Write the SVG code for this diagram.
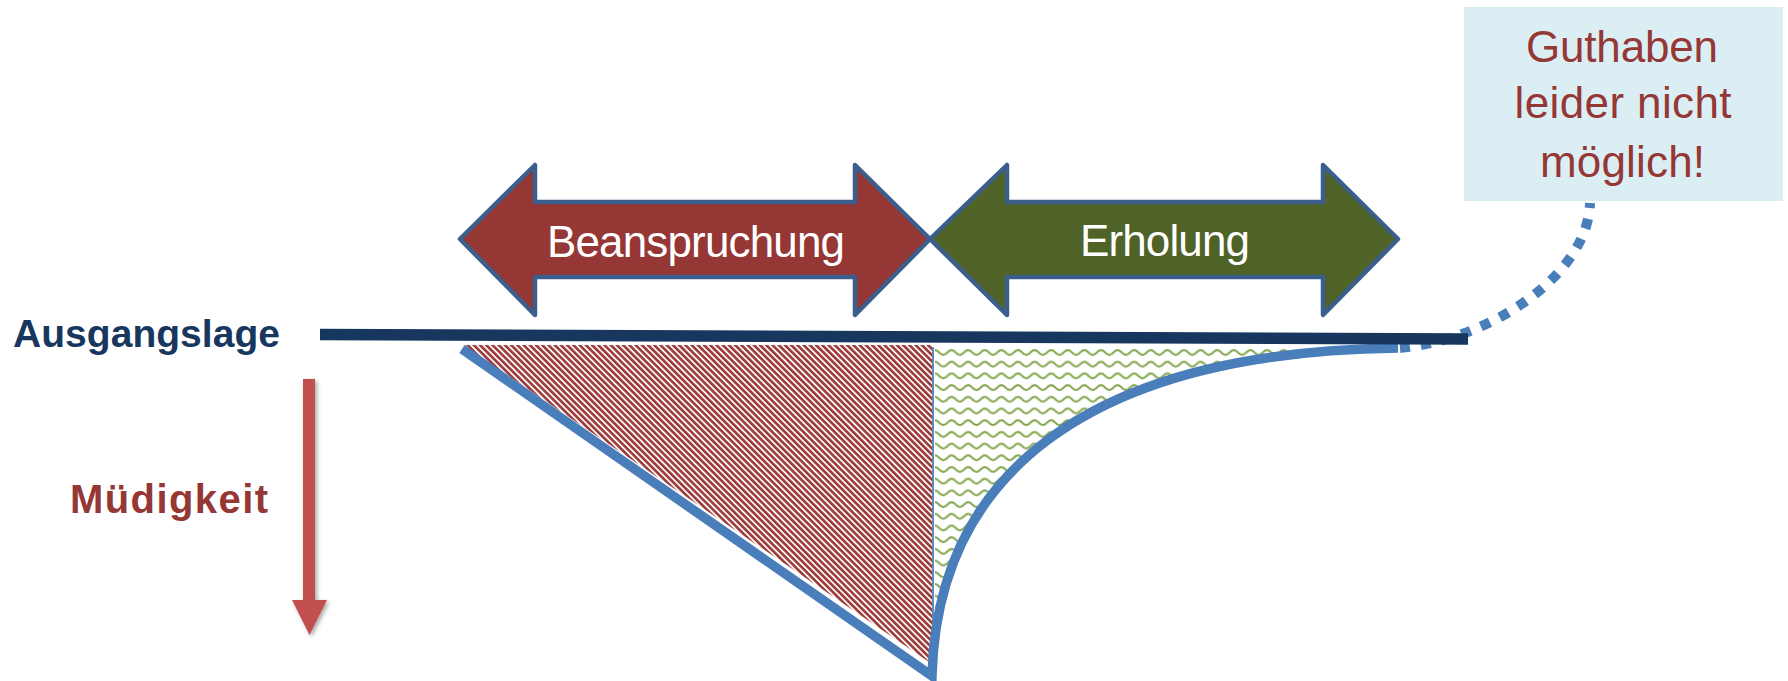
<svg xmlns="http://www.w3.org/2000/svg" width="1788" height="681" viewBox="0 0 1788 681">
  <style>
    .lbl{font-family:"Liberation Sans",Arial,sans-serif;}
    .arrowShape{stroke:#3B5E8C;stroke-width:4.5;stroke-linejoin:round;}
    .white{fill:#FFFFFF;font-size:44px;text-anchor:middle;}
    .note{fill:#953735;font-size:44px;text-anchor:middle;}
  </style>
  <defs>
    <pattern id="hatch" patternUnits="userSpaceOnUse" width="4.4" height="4.4" patternTransform="rotate(45)">
      <rect width="4.4" height="4.4" fill="#FFFFFF"/>
      <rect width="4.4" height="2.7" fill="#9E3E3C"/>
    </pattern>
    <pattern id="wave" patternUnits="userSpaceOnUse" width="16.6" height="11.7" x="935" y="347">
      <rect width="16.6" height="11.7" fill="#FFFFFF"/>
      <path d="M0,3 C4.15,3 4.15,8 8.3,8 C12.45,8 12.45,3 16.6,3" fill="none" stroke="#86A84F" stroke-width="2.2"/>
    </pattern>
    <filter id="shadow" x="-50%" y="-10%" width="200%" height="130%">
      <feGaussianBlur in="SourceAlpha" stdDeviation="2"/>
      <feOffset dx="2" dy="2" result="b"/>
      <feComponentTransfer><feFuncA type="linear" slope="0.35"/></feComponentTransfer>
      <feMerge><feMergeNode/><feMergeNode in="SourceGraphic"/></feMerge>
    </filter>
  </defs>

  <rect width="1788" height="681" fill="#FFFFFF"/>

  <!-- Areas -->
  <g id="area-beanspruchung">
    <polygon points="463,345 932,345 932,664" fill="url(#hatch)"/>
  </g>
  <g id="area-erholung">
    <path d="M935,345 L1398,345 C1080,352 938,480 935,672 Z" fill="url(#wave)"/>
    <line x1="933" y1="347" x2="933" y2="666" stroke="#4A7EBB" stroke-width="1.8"/>
  </g>

  <!-- Connectors / curves -->
  <g id="connectors">
    <path id="fatigue-curve" d="M462,349 L932,676 C937,480 1080,352 1398,348" fill="none" stroke="#4A7EBB" stroke-width="9.5" stroke-linejoin="miter"/>
    <path id="note-connector" d="M1400,348 C1490,340 1588,275 1590,203" fill="none" stroke="#4A7EBB" stroke-width="10" stroke-dasharray="10 11"/>
  </g>

  <!-- Baseline -->
  <g id="ausgangslage">
    <line x1="320" y1="334.5" x2="1468" y2="339" stroke="#17375E" stroke-width="11.5"/>
    <text class="lbl" x="13" y="347" font-size="39" font-weight="bold" fill="#17375E" textLength="267">Ausgangslage</text>
  </g>

  <!-- Müdigkeit -->
  <g id="muedigkeit">
    <g filter="url(#shadow)" fill="#C0504D">
      <rect x="303" y="379" width="12" height="222"/>
      <polygon points="292,600 327,600 309.5,635"/>
    </g>
    <text class="lbl" x="70" y="513" font-size="40" font-weight="bold" fill="#953735" textLength="198">Müdigkeit</text>
  </g>

  <!-- Beanspruchung arrow -->
  <g id="beanspruchung">
    <polygon class="arrowShape" fill="#953735" points="460,239 535,165 535,202 855,202 855,165 930,239 855,315 855,277 535,277 535,315"/>
    <text class="lbl white" x="696" y="257" textLength="298">Beanspruchung</text>
  </g>

  <!-- Erholung arrow -->
  <g id="erholung">
    <polygon class="arrowShape" fill="#4F6228" points="930,239 1007,165 1007,202 1323,202 1323,165 1398,239 1323,315 1323,277 1007,277 1007,315"/>
    <text class="lbl white" x="1165" y="256" textLength="170">Erholung</text>
  </g>

  <!-- Note -->
  <g id="guthaben">
    <rect x="1464" y="7" width="319" height="194" fill="#DBEEF4"/>
    <text class="lbl note" x="1622" y="62" textLength="192">Guthaben</text>
    <text class="lbl note" x="1623" y="118" textLength="217">leider nicht</text>
    <text class="lbl note" x="1622.5" y="177" textLength="165">möglich!</text>
  </g>
</svg>
